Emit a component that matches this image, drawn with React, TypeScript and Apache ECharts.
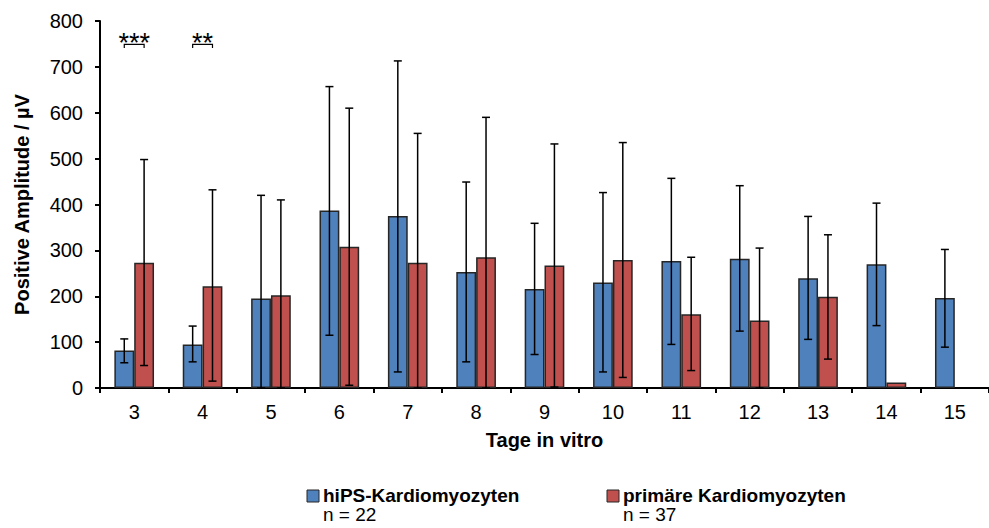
import React, { useEffect, useRef } from 'react';
import * as echarts from 'echarts';

// ---- data ----
const days = ['3', '4', '5', '6', '7', '8', '9', '10', '11', '12', '13', '14', '15'];
const seriesNames = ['hiPS-Kardiomyozyten', 'primäre Kardiomyozyten'];
const sampleSizes = ['n = 22', 'n = 37'];

const hipsMean = [82, 95, 195, 387, 375, 253, 216, 230, 277, 282, 239, 270, 196];
const hipsUpper = [107, 135, 420, 657, 713, 449, 359, 426, 457, 441, 374, 403, 302];
const hipsLower = [55, 57, 0, 115, 35, 57, 73, 35, 95, 124, 106, 136, 89];

const primMean: (number | null)[] = [273, 222, 202, 308, 273, 285, 267, 279, 161, 147, 199, 12, null];
const primUpper: (number | null)[] = [498, 432, 410, 610, 555, 590, 532, 535, 285, 305, 334, null, null];
const primLower: (number | null)[] = [49, 15, 0, 6, 0, 0, 2, 23, 38, 0, 63, null, null];

const sigDayIndex = [0, 1];
const sigLabels = ['***', '**'];
const sigLevel = 749;
const sigDrop = 741;

const yMin = 0;
const yMax = 800;
const yInterval = 100;

const xTitle = 'Tage in vitro';
const yTitle = 'Positive Amplitude / µV';

// ---- style ----
const FONT = 'Liberation Sans, Arial, sans-serif';
const BLUE = '#4F81BD';
const RED = '#C0504D';
const EDGE = '#262626';
const BAR_FRAC = 0.29;

function errorSeries(name: string, lower: (number | null)[], upper: (number | null)[], sign: number) {
  const data = days
    .map((_, i) => (upper[i] == null || lower[i] == null ? null : [i, lower[i], upper[i]]))
    .filter((d) => d !== null);
  return {
    type: 'custom',
    name,
    z: 5,
    silent: true,
    encode: { x: 0, y: [1, 2] },
    data,
    renderItem: (params: any, api: any) => {
      const idx = api.value(0);
      const lo = api.value(1);
      const hi = api.value(2);
      const band = api.size([1, 0])[0];
      const pHi = api.coord([idx, hi]);
      const pLo = api.coord([idx, lo]);
      const cx = pHi[0] + (sign * band * BAR_FRAC) / 2;
      const cap = 4;
      const st = { stroke: '#000', lineWidth: 1.5 };
      return {
        type: 'group',
        children: [
          { type: 'line', shape: { x1: cx, y1: pHi[1], x2: cx, y2: pLo[1] }, style: st },
          { type: 'line', shape: { x1: cx - cap, y1: pHi[1], x2: cx + cap, y2: pHi[1] }, style: st },
          { type: 'line', shape: { x1: cx - cap, y1: pLo[1], x2: cx + cap, y2: pLo[1] }, style: st },
        ],
      };
    },
  };
}

export default function App() {
  const ref = useRef<HTMLDivElement>(null);

  useEffect(() => {
    document.body.style.margin = '0';
    if (!ref.current) return;
    const chart = echarts.init(ref.current, null, { renderer: 'svg' });

    const option: any = {
      animation: false,
      backgroundColor: '#fff',
      grid: { left: 100, right: -6, top: 21, bottom: 140, containLabel: false },
      xAxis: {
        type: 'category',
        data: days,
        boundaryGap: true,
        name: xTitle,
        nameLocation: 'middle',
        nameGap: 42,
        nameTextStyle: { fontFamily: FONT, fontSize: 20, fontWeight: 'bold', color: '#000' },
        axisLine: { show: true, lineStyle: { color: '#000', width: 2 } },
        axisTick: { show: true, inside: false, length: 5, alignWithLabel: false, lineStyle: { color: '#000', width: 2 } },
        axisLabel: { fontFamily: FONT, fontSize: 20, color: '#000', margin: 14 },
        splitLine: { show: false },
      },
      yAxis: {
        type: 'value',
        min: yMin,
        max: yMax,
        interval: yInterval,
        name: yTitle,
        nameLocation: 'middle',
        nameRotate: 90,
        nameGap: 68,
        nameTextStyle: { fontFamily: FONT, fontSize: 20, fontWeight: 'bold', color: '#000' },
        axisLine: { show: true, lineStyle: { color: '#000', width: 2 } },
        axisTick: { show: true, inside: false, length: 5, lineStyle: { color: '#000', width: 2 } },
        axisLabel: { fontFamily: FONT, fontSize: 20, color: '#000', margin: 17 },
        splitLine: { show: false },
      },
      series: [
        {
          type: 'bar',
          name: seriesNames[0],
          data: hipsMean,
          barWidth: `${BAR_FRAC * 100}%`,
          barGap: '0%',
          itemStyle: { color: BLUE, borderColor: EDGE, borderWidth: 1.5 },
          z: 2,
        },
        {
          type: 'bar',
          name: seriesNames[1],
          data: primMean,
          barWidth: `${BAR_FRAC * 100}%`,
          barGap: '0%',
          itemStyle: { color: RED, borderColor: EDGE, borderWidth: 1.5 },
          z: 2,
        },
        errorSeries(seriesNames[0] + ' SD', hipsLower, hipsUpper, -1),
        errorSeries(seriesNames[1] + ' SD', primLower, primUpper, 1),
        {
          type: 'custom',
          name: 'Signifikanz',
          z: 6,
          silent: true,
          encode: { x: 0, y: 1 },
          data: sigDayIndex.map((d, i) => [d, sigLevel, sigDrop, sigLabels[i]]),
          renderItem: (params: any, api: any) => {
            const idx = api.value(0);
            const band = api.size([1, 0])[0];
            const top = api.coord([idx, api.value(1)]);
            const bot = api.coord([idx, api.value(2)]);
            const half = (band * BAR_FRAC) / 2;
            const x1 = top[0] - half;
            const x2 = top[0] + half;
            const label = sigLabels[params.dataIndex];
            return {
              type: 'group',
              children: [
                {
                  type: 'polyline',
                  shape: { points: [[x1, bot[1]], [x1, top[1]], [x2, top[1]], [x2, bot[1]]] },
                  style: { stroke: '#000', lineWidth: 1.2, fill: 'none' },
                },
                {
                  type: 'text',
                  x: top[0],
                  y: top[1] - 1,
                  style: {
                    text: label,
                    fill: '#000',
                    font: `27px ${FONT}`,
                    align: 'center',
                    verticalAlign: 'middle',
                  },
                },
              ],
            };
          },
        },
      ],
      graphic: [
        { type: 'rect', shape: { x: 307, y: 490, width: 12, height: 12 }, style: { fill: BLUE, stroke: EDGE, lineWidth: 1 } },
        { type: 'text', x: 323, y: 495, style: { text: seriesNames[0], font: `bold 19px ${FONT}`, fill: '#000', verticalAlign: 'middle' } },
        { type: 'text', x: 323, y: 514, style: { text: sampleSizes[0], font: `19px ${FONT}`, fill: '#000', verticalAlign: 'middle' } },
        { type: 'rect', shape: { x: 607, y: 490, width: 12, height: 12 }, style: { fill: RED, stroke: EDGE, lineWidth: 1 } },
        { type: 'text', x: 623, y: 495, style: { text: seriesNames[1], font: `bold 19px ${FONT}`, fill: '#000', verticalAlign: 'middle' } },
        { type: 'text', x: 623, y: 514, style: { text: sampleSizes[1], font: `19px ${FONT}`, fill: '#000', verticalAlign: 'middle' } },
      ],
    };

    chart.setOption(option);
    return () => chart.dispose();
  }, []);

  return <div ref={ref} style={{ position: 'absolute', left: 0, top: 0, width: 989, height: 528 }} />;
}
